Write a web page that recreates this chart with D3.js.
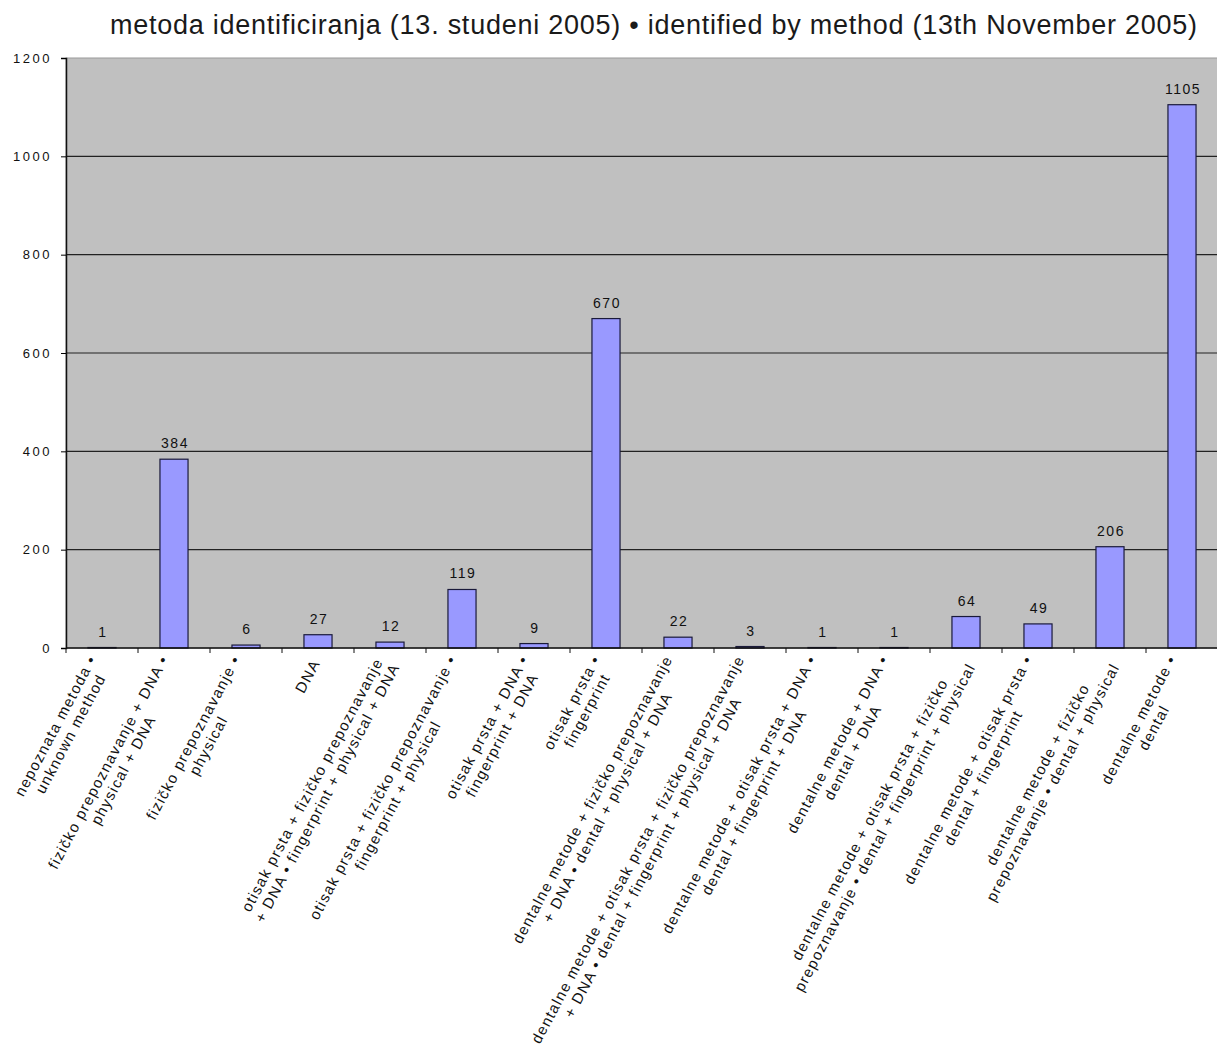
<!DOCTYPE html>
<html>
<head>
<meta charset="utf-8">
<script src="https://cdn.jsdelivr.net/npm/d3@7"></script>
<style>
  body { margin: 0; background: #fff; }
  text { font-family: "Liberation Sans", Arial, sans-serif; fill: #111; }
</style>
</head>
<body>
<div id="chart"></div>
<script>
// categories: each label is two lines (Croatian • English)
var labels = [
  ["nepoznata metoda •", "unknown method"],
  ["fizičko prepoznavanje + DNA •", "physical + DNA"],
  ["fizičko prepoznavanje •", "physical"],
  ["DNA"],
  ["otisak prsta + fizičko prepoznavanje", "+ DNA • fingerprint + physical + DNA"],
  ["otisak prsta + fizičko prepoznavanje •", "fingerprint + physical"],
  ["otisak prsta + DNA •", "fingerprint + DNA"],
  ["otisak prsta •", "fingerprint"],
  ["dentalne metode + fizičko prepoznavanje", "+ DNA • dental + physical + DNA"],
  ["dentalne metode + otisak prsta + fizičko prepoznavanje", "+ DNA • dental + fingerprint + physical + DNA"],
  ["dentalne metode + otisak prsta + DNA •", "dental + fingerprint + DNA"],
  ["dentalne metode + DNA •", "dental + DNA"],
  ["dentalne metode + otisak prsta + fizičko", "prepoznavanje • dental + fingerprint + physical"],
  ["dentalne metode + otisak prsta •", "dental + fingerprint"],
  ["dentalne metode + fizičko", "prepoznavanje • dental + physical"],
  ["dentalne metode •", "dental"]
];
var values = [1, 384, 6, 27, 12, 119, 9, 670, 22, 3, 1, 1, 64, 49, 206, 1105];
var yTicks = [0, 200, 400, 600, 800, 1000, 1200];
var title = "metoda identificiranja (13. studeni 2005) • identified by method (13th November 2005)";

var W = 1217, H = 1057;
var margin = {top: 58, right: -1, bottom: 409, left: 66},
    width = W - margin.left - margin.right,
    height = H - margin.top - margin.bottom;

var svg = d3.select("#chart").append("svg")
    .attr("width", W)
    .attr("height", H);

svg.append("text")
    .attr("x", 110)
    .attr("y", 34)
    .attr("textLength", 1087)
    .attr("lengthAdjust", "spacing")
    .style("font-size", "27px")
    .style("fill", "#1a1a1a")
    .text(title);

var g = svg.append("g")
    .attr("transform", "translate(" + margin.left + "," + margin.top + ")");

var idx = d3.range(values.length);
var x = d3.scaleBand().domain(idx).range([0, width]).padding(0);
var y = d3.scaleLinear().domain([0, 1200]).range([height, 0]);

// plot background
g.append("rect")
    .attr("width", width)
    .attr("height", height)
    .attr("fill", "#c0c0c0")
    .attr("stroke", "#9a9a9a");

// gridlines
g.selectAll(".grid")
  .data(yTicks.filter(function(d) { return d > 0 && d < 1200; }))
  .enter().append("line")
    .attr("x1", 0).attr("x2", width)
    .attr("y1", function(d) { return y(d); })
    .attr("y2", function(d) { return y(d); })
    .attr("stroke", "#222")
    .attr("stroke-width", 1.2);

// bars
var bw = x.bandwidth() * 0.39;
g.selectAll(".bar")
  .data(values)
  .enter().append("rect")
    .attr("x", function(d, i) { return x(i) + (x.bandwidth() - bw) / 2; })
    .attr("y", function(d) { return y(d); })
    .attr("width", bw)
    .attr("height", function(d) { return height - y(d); })
    .attr("fill", "#9999ff")
    .attr("stroke", "#1a1a3a")
    .attr("stroke-width", 1.2);

// value labels
g.selectAll(".val")
  .data(values)
  .enter().append("text")
    .attr("x", function(d, i) { return x(i) + x.bandwidth() / 2 + 1; })
    .attr("y", function(d) { return y(d) - 11; })
    .attr("text-anchor", "middle")
    .style("font-size", "14px")
    .style("letter-spacing", "1.5px")
    .text(function(d) { return d; });

// y axis
var yAxis = g.append("g")
    .call(d3.axisLeft(y).tickValues(yTicks).tickFormat(d3.format("d")).tickSize(5).tickPadding(9));
yAxis.select(".domain").attr("stroke", "#111").attr("stroke-width", 1.5);
yAxis.selectAll("text")
    .style("font-size", "13px")
    .style("letter-spacing", "2.5px")
    .style("font-family", "Liberation Sans, Arial, sans-serif");

// x axis: tick marks between categories
var xAxis = g.append("g").attr("transform", "translate(0," + height + ")");
xAxis.append("line")
    .attr("x1", 0).attr("x2", width)
    .attr("stroke", "#111").attr("stroke-width", 1.5);
xAxis.selectAll(".tk")
  .data(d3.range(values.length + 1))
  .enter().append("line")
    .attr("x1", function(d) { return d * x.bandwidth(); })
    .attr("x2", function(d) { return d * x.bandwidth(); })
    .attr("y1", 0).attr("y2", 5)
    .attr("stroke", "#111");

// rotated two-line category labels
var lh = 17;
idx.forEach(function(i) {
  var lines = labels[i];
  var lg = xAxis.append("g")
      .attr("transform", "translate(" + (x(i) + x.bandwidth() / 2) + ",9) rotate(-62)");
  var texts = lines.map(function(s, k) {
    return lg.append("text")
        .attr("y", (k - (lines.length - 1) / 2) * lh + 5)
        .attr("text-anchor", "end")
        .style("font-size", "15px")
        .style("letter-spacing", "1.3px")
        .text(s);
  });
  var lens = texts.map(function(t) { return t.node().getComputedTextLength(); });
  var mx = d3.max(lens);
  texts.forEach(function(t, k) {
    t.attr("x", -(mx - lens[k]) / 2 - 4);
  });
});
</script>
</body>
</html>
